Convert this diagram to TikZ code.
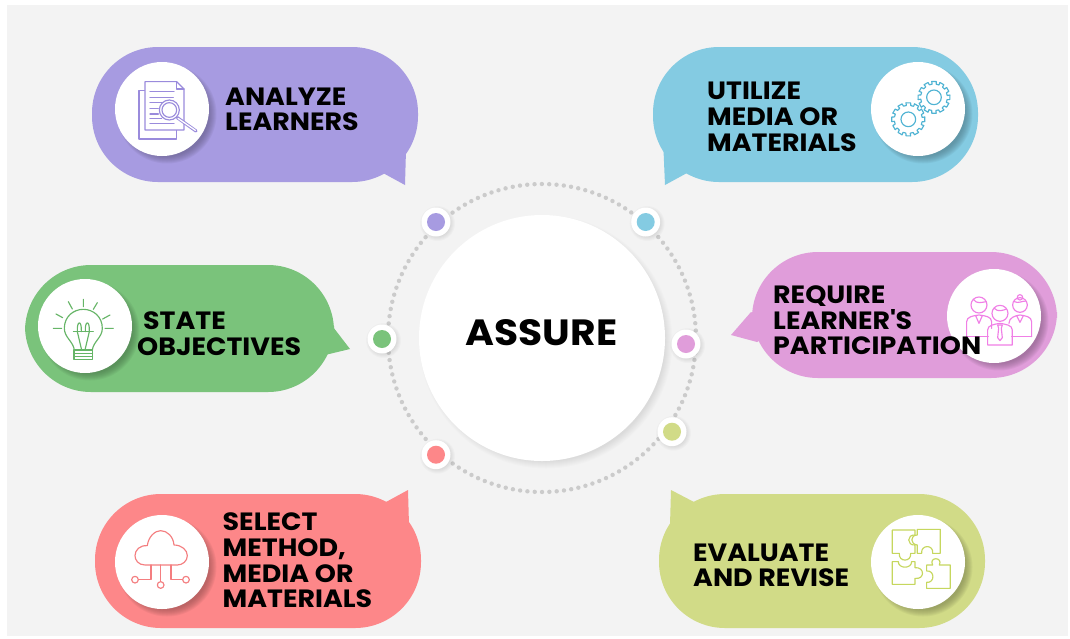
\documentclass[tikz,border=0pt]{standalone}
\usepackage{fontspec}
\setmainfont{Poppins}[BoldFont={Poppins Bold},BoldFeatures={FakeStretch=1.075}]
\usetikzlibrary{calc}
\definecolor{cPurple}{HTML}{A79BE1}
\definecolor{cCyan}{HTML}{84CBE2}
\definecolor{cGreen}{HTML}{7AC37B}
\definecolor{cPink}{HTML}{E09DDA}
\definecolor{cRed}{HTML}{FD8789}
\definecolor{cLime}{HTML}{D1DB87}
\definecolor{iPurple}{HTML}{9A8BDC}
\definecolor{iCyan}{HTML}{4FB3D3}
\definecolor{iGreen}{HTML}{66B567}
\definecolor{iPink}{HTML}{F07FE6}
\definecolor{iRed}{HTML}{F47E80}
\definecolor{iLime}{HTML}{C6D75E}
\definecolor{bgGray}{HTML}{F3F3F3}
\definecolor{ringGray}{HTML}{CBCBCB}
\tikzset{
  label text/.style={font=\fontsize{25}{25.8}\selectfont\bfseries, text=black, align=left, inner sep=0pt, anchor=west},
  title text/.style={font=\fontsize{36.5}{36.5}\selectfont\bfseries, text=black, inner sep=0pt},
  ring/.style={draw=ringGray, line width=4.4pt, line cap=round, dash pattern=on 0pt off 7.33pt},
  icon/.style={line width=1.15pt, line join=round, line cap=round},
  disc/.style={circle, fill=white, minimum size=94pt, inner sep=0pt},
  outer dot/.style={circle, fill=white, minimum size=29pt, inner sep=0pt},
  inner dot/.style={circle, minimum size=18pt, inner sep=0pt},
}
% soft shadow: #1 centre, #2 radius, #3 colour, #4 strength
\newcommand{\softshadow}[4]{%
  \foreach \k in {0,1,...,7}{%
    \fill[#3, opacity=#4] #1 circle ({#2+3.5-\k});
  }}
% bubble: #1 colour #2 x0 #3 y0 #4 x1 #5 y1 #6 tail points
\newcommand{\bubble}[6]{%
  \fill[#1, rounded corners=66pt] (#2,#3) rectangle (#4,#5);
  \fill[#1] #6 -- cycle;
}
\newcommand{\gearicon}[4]{% centre x,y, radius, colour
  \foreach \i in {0,30,...,330}{%
    \draw[icon,#4] ($(#1,#2)+({\i-8}:#3)$) -- ($(#1,#2)+({\i+8}:#3)$) -- ($(#1,#2)+({\i+10}:#3-8)$) -- ($(#1,#2)+({\i+22}:#3-8)$) -- ($(#1,#2)+({\i+22}:#3)$);
  }
  \draw[icon,#4] (#1,#2) circle (22);
}
\begin{document}
\begin{tikzpicture}[x=1pt,y=-1pt]
\useasboundingbox (0,0) rectangle (1070,638);
\fill[white] (0,0) rectangle (1070,638);
\fill[bgGray] (7,5) rectangle (1068,636);

% ring and centre
\draw[ring] (542,338) circle (154);
\softshadow{(546,342)}{123}{black}{0.012}
\node[circle, fill=white, minimum size=246pt, inner sep=0pt] (hub) at (542,338) {};
\node[title text] (assure) at (541.5,332.5) {ASSURE};

% ring dots
\foreach \n/\c/\x/\y in {a/cPurple/436/222, b/cCyan/645.7/222, c/cGreen/382/339, d/cPink/686/344, e/cLime/672/431.7, f/cRed/436/454.7}{
  \softshadow{(\x+1.5,\y+1.5)}{14}{black}{0.02}
  \node[outer dot] (o\n) at (\x,\y) {};
  \node[inner dot, fill=\c] (i\n) at (\x,\y) {};
}

% bubbles
\bubble{cPurple}{92}{47}{418}{182}{(380,150) -- (406,150) -- (405,185) -- (383,173)}
\bubble{cCyan}{653}{47}{978}{182}{(690,150) -- (663.5,150) -- (665,185) -- (687,173)}
\bubble{cGreen}{25}{265}{334}{392}{(330,323) -- (350,349) -- (325,355) -- (300,340)}
\bubble{cPink}{752}{252}{1057}{378}{(751,312) -- (731,335) -- (757,342) -- (780,330)}
\bubble{cRed}{95}{494}{421}{628}{(386,502) -- (408,490) -- (409,525) -- (380,525)}
\bubble{cLime}{659}{494}{985}{628}{(694,502) -- (671,490) -- (670,525) -- (700,525)}

% icon discs
\foreach \n/\c/\x/\y in {one/cPurple/162/109, two/cCyan/918/109, three/cGreen/85/326, four/cPink/994/316, five/cRed/162/562, six/cLime/918/562}{
  \softshadow{(\x+5,\y+5)}{46}{\c!55!black}{0.09}
  \node[disc] (d\n) at (\x,\y) {};
}

% analyze icon
\begin{scope}[shift={(90,40)},x=0.3333pt,y=-0.3333pt]
  \draw[icon,iPurple] (147,152) rectangle (260,297);
  \filldraw[icon,iPurple,fill=white] (165,125) -- (260,125) -- (282,147) -- (282,270) -- (165,270) -- cycle;
  \draw[icon,iPurple] (260,125) -- (260,147) -- (282,147);
  \foreach \a/\b/\yy in {180/252/155,180/250/172,180/215/188,180/205/205,180/205/222,180/215/236,180/252/250}{
    \draw[icon,iPurple] (\a,\yy) -- (\b,\yy);
  }
  \filldraw[icon,iPurple,fill=white] (238,210) circle (30);
  \draw[icon,iPurple] (238,210) circle (22);
  \draw[icon,iPurple,line width=3.2pt] (262,233) -- (318,273);
  \draw[white,line width=1.3pt,line cap=round] (264,235) -- (316,271);
\end{scope}

% gear icon
\begin{scope}[shift={(650,40)},x=0.3333pt,y=-0.3333pt]
  \gearicon{775}{238}{50}{iCyan}
  \gearicon{852}{172}{48}{iCyan}
\end{scope}

% bulb icon
\begin{scope}[shift={(20,260)},x=0.3333pt,y=-0.3333pt]
  \draw[icon,iGreen] (163,270) .. controls (160,245) and (133,232) .. (133,205) .. controls (133,170) and (160,148) .. (190,148) .. controls (220,148) and (247,170) .. (247,205) .. controls (247,232) and (220,245) .. (217,270) -- cycle;
  \draw[icon,iGreen] (162,270) rectangle (218,299);
  \draw[icon,iGreen] (162,280) -- (218,280) (162,290) -- (218,290);
  \draw[icon,iGreen] (190,118) -- (190,140) (145,125) -- (157,147) (232,128) -- (220,148) (108,162) -- (128,173) (270,165) -- (248,177) (100,205) -- (125,205) (255,205) -- (280,205);
  \draw[icon,iGreen] (160,215) -- (220,215);
  \draw[icon,iGreen] (172,215) -- (185,270) (208,215) -- (195,270);
  \draw[icon,iGreen] (172,215) .. controls (170,180) and (186,180) .. (184,215);
  \draw[icon,iGreen] (196,215) .. controls (194,180) and (210,180) .. (208,215);
\end{scope}

% people icon
\begin{scope}[shift={(725,245)},x=0.3333pt,y=-0.3333pt]
  \tikzset{pp/.style={icon,draw=iPink}}
  \draw[pp] (762,180) circle (24);
  \draw[pp] (745,163) .. controls (755,178) and (770,172) .. (783,170);
  \draw[pp] (725,275) -- (725,230) .. controls (725,215) and (745,212) .. (762,210) .. controls (780,212) and (800,215) .. (800,230) -- (800,250);
  \draw[pp] (725,275) -- (790,275);
  \draw[pp] (752,212) -- (762,235) -- (772,212);
  \draw[pp] (885,180) circle (22);
  \draw[pp] (885,157) circle (8);
  \draw[pp] (868,170) .. controls (880,176) and (892,168) .. (902,168);
  \draw[pp] (920,275) -- (920,230) .. controls (920,215) and (900,212) .. (885,210) .. controls (870,212) and (852,218) .. (852,235);
  \draw[pp] (860,275) -- (920,275);
  \draw[pp] (875,212) -- (885,232) -- (895,212);
  \draw[pp] (825,205) circle (24);
  \draw[pp] (808,190) .. controls (818,202) and (835,196) .. (844,192);
  \draw[pp] (788,300) -- (788,255) .. controls (788,240) and (808,238) .. (825,235) .. controls (842,238) and (862,240) .. (862,255) -- (862,300) -- cycle;
  \draw[pp] (818,240) -- (832,240) -- (829,250) -- (832,278) -- (825,287) -- (818,278) -- (821,250) -- cycle;
\end{scope}

% cloud icon
\begin{scope}[shift={(90,485)},x=0.3333pt,y=-0.3333pt]
  \tikzset{cc/.style={icon,draw=iRed}}
  \draw[cc] (165,240) .. controls (145,240) and (135,225) .. (135,212) .. controls (135,195) and (150,180) .. (172,182) .. controls (175,155) and (195,137) .. (212,137) .. controls (232,137) and (250,155) .. (252,180) .. controls (275,180) and (292,195) .. (292,212) .. controls (292,228) and (278,240) .. (262,240) -- cycle;
  \draw[cc] (183,240) -- (183,284) -- (145,284);
  \draw[cc] (212,240) -- (212,290);
  \draw[cc] (243,240) -- (243,284) -- (278,284);
  \draw[cc] (135,284) circle (10);
  \draw[cc] (212,300) circle (10);
  \draw[cc] (288,284) circle (10);
\end{scope}

% puzzle icon
\begin{scope}[shift={(650,485)},x=0.3333pt,y=-0.3333pt]
  \tikzset{zz/.style={icon,draw=iLime}}
  \draw[zz] (727,135) -- (795,135) -- (795,150) .. controls (770,148) and (770,182) .. (795,180) -- (795,205) -- (782,205) .. controls (785,232) and (745,232) .. (748,205) -- (727,205) -- cycle;
  \draw[zz] (802,133) -- (871,133) -- (871,205) -- (848,205) .. controls (852,178) and (812,178) .. (815,205) -- (802,205) -- (802,180) .. controls (780,178) and (780,150) .. (802,150) -- cycle;
  \draw[zz] (727,230) -- (745,230) .. controls (745,252) and (785,252) .. (785,230) -- (795,230) -- (795,248) .. controls (825,245) and (825,285) .. (795,280) -- (795,298) -- (727,298) -- cycle;
  \draw[zz] (830,240) -- (848,240) .. controls (835,215) and (880,215) .. (868,240) -- (901,240) -- (901,310) -- (830,310) -- (830,292) .. controls (855,295) and (855,255) .. (830,258) -- cycle;
\end{scope}

% labels
\node[label text] (t1) at (225,109.3) {ANALYZE\\LEARNERS};
\node[label text] (t2) at (707,116.8) {UTILIZE\\MEDIA OR\\MATERIALS};
\node[label text] (t3) at (137,333.3) {\hspace*{6pt}STATE\\OBJECTIVES};
\node[label text] (t4) at (773,320.3) {REQUIRE\\LEARNER\textquotesingle S\\PARTICIPATION};
\node[label text] (t5) at (222.5,560.3) {SELECT\\METHOD,\\MEDIA OR\\MATERIALS};
\node[label text] (t6) at (693,565.3) {EVALUATE\\AND REVISE};
\end{tikzpicture}
\end{document}
